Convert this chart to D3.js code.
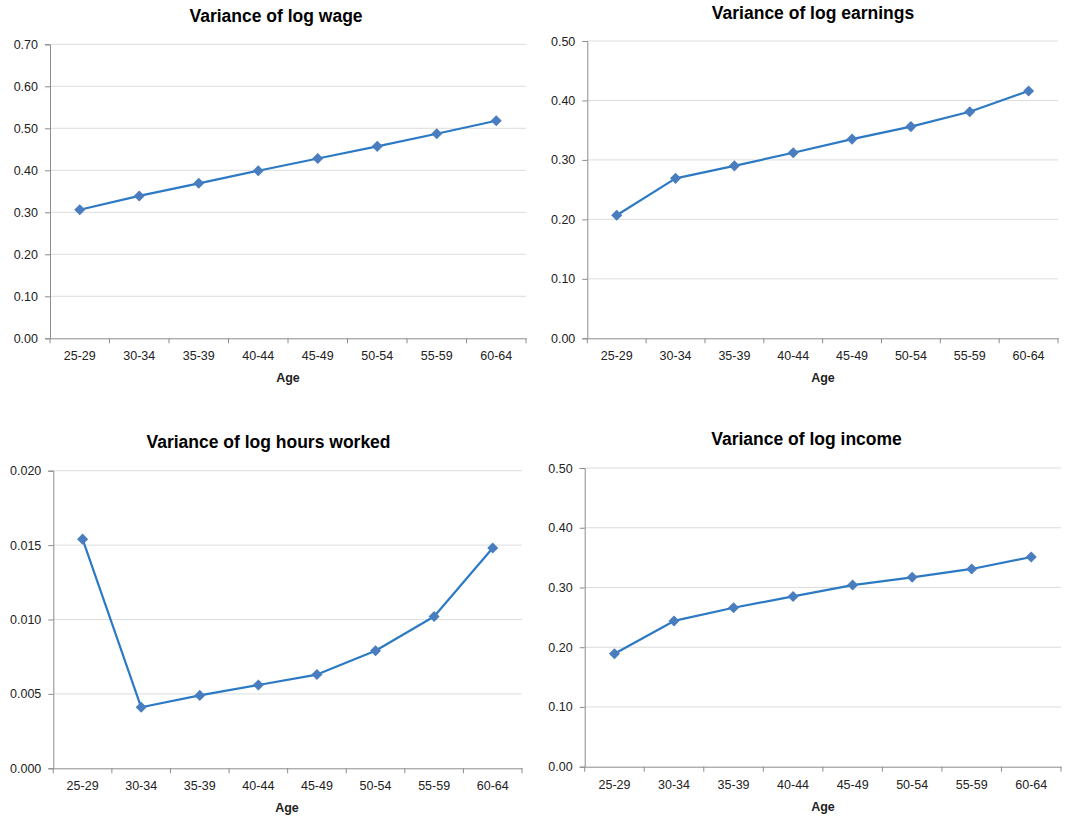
<!DOCTYPE html>
<html>
<head>
<meta charset="utf-8">
<script src="https://cdn.jsdelivr.net/npm/d3@7/dist/d3.min.js"></script>
<style>
  html, body { margin: 0; padding: 0; background: #fff; }
  svg { display: block; }
  .tick text { font-family: "Liberation Sans", Arial, sans-serif; font-size: 12.5px; fill: #222; }
  .title { font-family: "Liberation Sans", Arial, sans-serif; font-size: 17.5px; font-weight: bold; fill: #000; }
  .axis-title { font-family: "Liberation Sans", Arial, sans-serif; font-size: 12.5px; font-weight: bold; fill: #222; }
</style>
</head>
<body>
<svg id="chart" width="1066" height="821"></svg>
<script>
// Age groups shared by all four panels
const ageGroups = ["25-29", "30-34", "35-39", "40-44", "45-49", "50-54", "55-59", "60-64"];

// Variance of each log outcome by age group
const logWage     = [0.306, 0.339, 0.369, 0.399, 0.428, 0.457, 0.487, 0.518];
const logEarnings = [0.207, 0.269, 0.290, 0.312, 0.335, 0.356, 0.381, 0.416];
const logHours    = [0.0154, 0.0041, 0.0049, 0.0056, 0.0063, 0.0079, 0.0102, 0.0148];
const logIncome   = [0.189, 0.244, 0.266, 0.285, 0.304, 0.317, 0.331, 0.351];

// Panel titles and y-axis tick values
const panelTitles = ["Variance of log wage", "Variance of log earnings", "Variance of log hours worked", "Variance of log income"];
const wageTicks     = [0, 0.1, 0.2, 0.3, 0.4, 0.5, 0.6, 0.7];
const earningsTicks = [0, 0.1, 0.2, 0.3, 0.4, 0.5];
const hoursTicks    = [0, 0.005, 0.010, 0.015, 0.020];
const incomeTicks   = [0, 0.1, 0.2, 0.3, 0.4, 0.5];

const xTitle = "Age";

// Panel placement on the page
const panels = [
  { title: panelTitles[0], values: logWage,     ticks: wageTicks,     fmt: ".2f",
    left: 50,    right: 526,  top: 44.3, bottom: 338.3, titleX: 276,   titleY: 22,  axisTitleX: 288, axisTitleY: 382 },
  { title: panelTitles[1], values: logEarnings, ticks: earningsTicks, fmt: ".2f",
    left: 587.3, right: 1058, top: 41,   bottom: 338.3, titleX: 813,   titleY: 19,  axisTitleX: 823, axisTitleY: 382 },
  { title: panelTitles[2], values: logHours,    ticks: hoursTicks,    fmt: ".3f",
    left: 53.3,  right: 522,  top: 470.7, bottom: 768.3, titleX: 268.5, titleY: 448, axisTitleX: 287, axisTitleY: 812 },
  { title: panelTitles[3], values: logIncome,   ticks: incomeTicks,   fmt: ".2f",
    left: 584.7, right: 1061, top: 468,  bottom: 766.7, titleX: 806.5, titleY: 445, axisTitleX: 823, axisTitleY: 811 }
];

const svg = d3.select("#chart");
const lineColor = "#2c79c4";
const markerColor = "#4a7dbf";
const axisColor = "#8c8c8c";
const gridColor = "#dcdcdc";

panels.forEach(p => {
  const g = svg.append("g");

  const x = d3.scaleBand().domain(ageGroups).range([p.left, p.right]);
  const yMax = p.ticks[p.ticks.length - 1];
  const y = d3.scaleLinear().domain([0, yMax]).range([p.bottom, p.top]);

  // horizontal gridlines
  g.append("g")
    .selectAll("line")
    .data(p.ticks.filter(t => t > 0))
    .join("line")
    .attr("x1", p.left).attr("x2", p.right)
    .attr("y1", d => y(d)).attr("y2", d => y(d))
    .attr("stroke", gridColor).attr("stroke-width", 1);

  // y axis
  const yAxis = g.append("g")
    .attr("transform", `translate(${p.left},0)`)
    .call(d3.axisLeft(y).tickValues(p.ticks).tickFormat(d3.format(p.fmt)).tickSize(5).tickPadding(7));
  yAxis.select(".domain").attr("stroke", axisColor);
  yAxis.selectAll(".tick line").attr("stroke", axisColor);

  // x axis with tick marks on category boundaries
  const xAxis = g.append("g")
    .attr("transform", `translate(0,${p.bottom})`)
    .call(d3.axisBottom(x).tickSize(0).tickPadding(13));
  xAxis.select(".domain").attr("stroke", axisColor);
  const bounds = ageGroups.map(a => x(a)).concat([p.right]);
  xAxis.selectAll(".bound")
    .data(bounds)
    .join("line")
    .attr("class", "bound")
    .attr("x1", d => d).attr("x2", d => d)
    .attr("y1", 0).attr("y2", 5)
    .attr("stroke", axisColor);

  // series line
  const line = d3.line()
    .x((d, i) => x(ageGroups[i]) + x.bandwidth() / 2)
    .y(d => y(d));
  g.append("path")
    .datum(p.values)
    .attr("d", line)
    .attr("fill", "none")
    .attr("stroke", lineColor)
    .attr("stroke-width", 2.2)
    .attr("stroke-linejoin", "round");

  // diamond markers
  const diamond = d3.symbol().type(d3.symbolDiamond2).size(78);
  g.append("g")
    .selectAll("path")
    .data(p.values)
    .join("path")
    .attr("d", diamond)
    .attr("transform", (d, i) => `translate(${x(ageGroups[i]) + x.bandwidth() / 2},${y(d)})`)
    .attr("fill", markerColor);

  // titles
  g.append("text").attr("class", "title")
    .attr("x", p.titleX).attr("y", p.titleY)
    .attr("text-anchor", "middle")
    .text(p.title);
  g.append("text").attr("class", "axis-title")
    .attr("x", p.axisTitleX).attr("y", p.axisTitleY)
    .attr("text-anchor", "middle")
    .text(xTitle);
});
</script>
</body>
</html>
